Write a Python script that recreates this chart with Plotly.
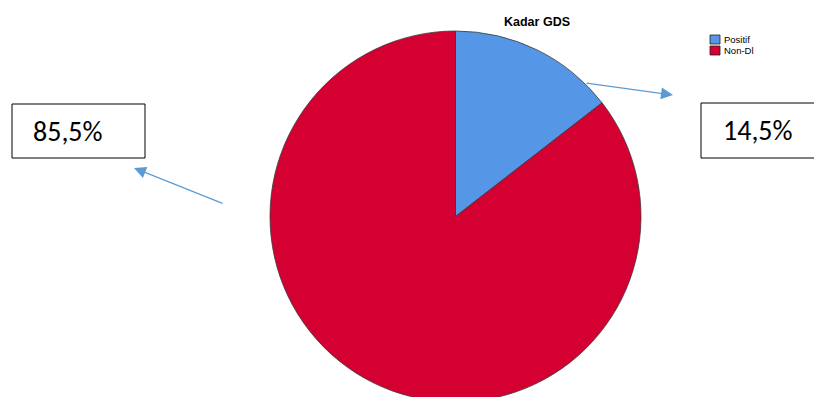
import plotly.graph_objects as go

W, H = 814, 405
OFF = 0  # body margin removed by post_script

labels = ["Positif", "Non-Dl"]
values = [14.5, 85.5]
colors = ["#5596E6", "#D50032"]
box_texts = ["85,5%", "14,5%"]
title_text = "Kadar GDS"

def px(x):
    return (x - OFF) / W

def py(y):
    return 1 - (y - OFF) / H

fig = go.Figure()
cx, top, r = 455.5, 31, 185.5
fig.add_trace(go.Pie(
    labels=labels, values=values, sort=False, direction="clockwise", rotation=0,
    marker=dict(colors=colors, line=dict(color="#3a3a3a", width=0.8)),
    textinfo="none", hoverinfo="label+percent", showlegend=False,
    domain=dict(x=[px(cx - r), px(cx + r)], y=[py(top + 2 * r), py(top)]),
))

shapes = []
annotations = []

# title
annotations.append(dict(x=px(537), y=py(22), xref="paper", yref="paper", text="<b>" + title_text + "</b>",
                        showarrow=False, font=dict(family="Liberation Sans, Arial", size=12.5, color="#000"),
                        xanchor="center", yanchor="middle"))

# legend
leg_y = [35, 46]
for lab, col, y0 in zip(labels, colors, leg_y):
    shapes.append(dict(type="rect", xref="paper", yref="paper",
                       x0=px(710), x1=px(720), y0=py(y0 + 9), y1=py(y0),
                       fillcolor=col, line=dict(color="#222", width=0.8)))
    annotations.append(dict(x=px(722), y=py(y0 + 4.5), xref="paper", yref="paper", text=lab,
                            showarrow=False, xanchor="left", yanchor="middle",
                            font=dict(family="Liberation Sans, Arial", size=9.5, color="#000")))

# left box (closed)
shapes.append(dict(type="rect", xref="paper", yref="paper",
                   x0=px(12), x1=px(145), y0=py(158), y1=py(104),
                   line=dict(color="#000", width=1), fillcolor="rgba(0,0,0,0)"))
annotations.append(dict(x=px(68), y=py(131), xref="paper", yref="paper", text=box_texts[0],
                        showarrow=False, xanchor="center", yanchor="middle",
                        font=dict(family="Carlito, Open Sans, Liberation Sans", size=28, color="#000")))

# right box (runs off the right edge: top, left, bottom sides only)
rx0, ry0, ry1, rx1 = 701, 103, 158, 900
path = "M {a},{b} L {c},{b} L {c},{d} L {a},{d}".format(
    a=px(rx1), b=py(ry0), c=px(rx0), d=py(ry1))
shapes.append(dict(type="path", xref="paper", yref="paper", path=path,
                   line=dict(color="#000", width=1)))
annotations.append(dict(x=px(758), y=py(130.5), xref="paper", yref="paper", text=box_texts[1],
                        showarrow=False, xanchor="center", yanchor="middle",
                        font=dict(family="Carlito, Open Sans, Liberation Sans", size=28, color="#000")))

# arrows (head, tail)
arrows = [((134, 168), (224, 204)), ((673, 95), (585, 83))]
for (hx, hy), (tx, ty) in arrows:
    annotations.append(dict(x=px(hx), y=py(hy), xref="paper", yref="paper", text="",
                            showarrow=True, ax=tx - hx, ay=ty - hy, axref="pixel", ayref="pixel",
                            arrowhead=2, arrowsize=2, arrowwidth=1.2, arrowcolor="#5B9BD5"))

fig.update_layout(width=W, height=H, margin=dict(l=0, r=0, t=0, b=0),
                  paper_bgcolor="white", plot_bgcolor="white",
                  shapes=shapes, annotations=annotations, showlegend=False)

fig.write_html("out.html", config={"displayModeBar": False}, post_script=(
    "document.body.style.margin='0';"
    "document.body.style.overflow='hidden';"
    "document.documentElement.style.overflow='hidden';"
))
